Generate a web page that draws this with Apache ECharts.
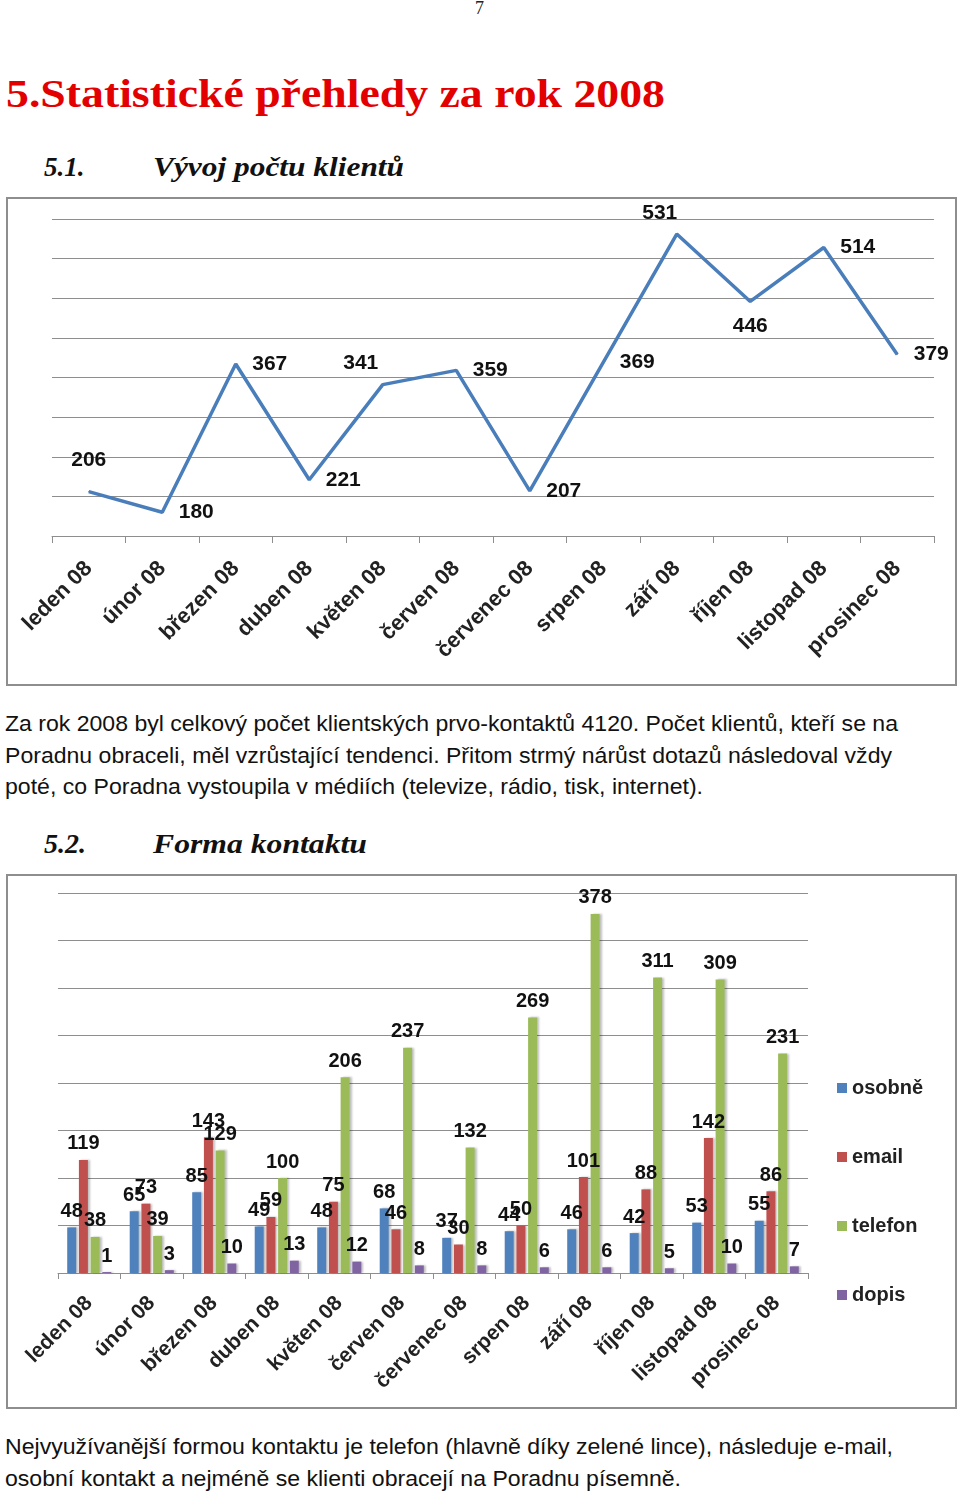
<!DOCTYPE html>
<html><head><meta charset="utf-8">
<script src="https://cdn.jsdelivr.net/npm/echarts/dist/echarts.min.js"></script>
<style>
html,body{margin:0;padding:0;background:#fff;width:960px;height:1492px;overflow:hidden;}
body{position:relative;}
.t{position:absolute;white-space:nowrap;transform-origin:0 50%;}
.p{font-family:"Liberation Sans",Arial,sans-serif;font-size:22px;color:#111;line-height:30px;}
.h2{font-family:"Liberation Serif",serif;font-weight:bold;font-style:italic;font-size:28px;color:#111;line-height:34px;}
.box{position:absolute;border:2px solid #8e8e8e;box-sizing:border-box;}
.chart{position:absolute;left:0;width:960px;}
</style></head>
<body>
<div class="t" style="left:475px;top:-3px;font-family:'Liberation Serif',serif;font-size:18px;line-height:22px;color:#222;">7</div>
<div class="t" data-w="659" style="left:6px;top:71px;font-family:'Liberation Serif',serif;font-weight:bold;font-size:39px;line-height:46px;color:#e30000;">5.Statistické přehledy za rok 2008</div>
<div class="t h2" style="left:44px;top:150px;font-size:27px;">5.1.</div>
<div class="t h2" data-w="251" style="left:153px;top:150px;font-size:27px;">Vývoj počtu klientů</div>

<div class="box" style="left:6px;top:197px;width:951px;height:489px;"></div>
<div id="c1" class="chart" style="top:197px;height:490px;"></div>

<div class="t p" data-w="893" style="left:5px;top:709px;">Za rok 2008 byl celkový počet klientských prvo-kontaktů 4120. Počet klientů, kteří se na</div>
<div class="t p" data-w="887" style="left:5px;top:741px;">Poradnu obraceli, měl vzrůstající tendenci. Přitom strmý nárůst dotazů následoval vždy</div>
<div class="t p" data-w="698" style="left:5px;top:772px;">poté, co Poradna vystoupila v médiích (televize, rádio, tisk, internet).</div>

<div class="t h2" style="left:44px;top:827px;">5.2.</div>
<div class="t h2" data-w="214" style="left:153px;top:827px;">Forma kontaktu</div>

<div class="box" style="left:6px;top:874px;width:951px;height:535px;"></div>
<div id="c2" class="chart" style="top:874px;height:535px;"></div>

<div class="t p" data-w="888" style="left:5px;top:1432px;">Nejvyužívanější formou kontaktu je telefon (hlavně díky zelené lince), následuje e-mail,</div>
<div class="t p" data-w="676" style="left:5px;top:1464px;">osobní kontakt a nejméně se klienti obracejí na Poradnu písemně.</div>

<script>
// ---- data ----
const months = ['leden 08','únor 08','březen 08','duben 08','květen 08','červen 08','červenec 08','srpen 08','září 08','říjen 08','listopad 08','prosinec 08'];
const clients = [206,180,367,221,341,359,207,369,531,446,514,379];
const contactNames = ['osobně','email','telefon','dopis'];
const osobne  = [48,65,85,49,48,68,37,44,46,42,53,55];
const email   = [119,73,143,59,75,46,30,50,101,88,142,86];
const telefon = [38,39,129,100,206,237,132,269,378,311,309,231];
const dopis   = [1,3,10,13,12,8,8,6,6,5,10,7];

// ---- label placement for chart 1 (style only) ----
const labelPlace = [
  {position:'top',distance:20},{position:'right',distance:16},{position:'right',distance:16},
  {position:'right',distance:16},{position:'top',distance:10,offset:[-22,0]},{position:'right',distance:16},
  {position:'right',distance:16},{position:'right',distance:16},{position:'top',distance:10,offset:[-17,0]},
  {position:'bottom',distance:14},{position:'right',distance:16},{position:'right',distance:16}
];

// fit text widths
document.querySelectorAll('[data-w]').forEach(el=>{
  const w = el.getBoundingClientRect().width;
  const target = +el.dataset.w;
  if (w>0) el.style.transform = 'scaleX(' + (target/w) + ')';
});

const FONT = '"Liberation Sans", Arial, sans-serif';
const grey = '#8e8e8e';

const c1 = echarts.init(document.getElementById('c1'), null, {renderer:'canvas'});
c1.setOption({
  animation:false,
  grid:{left:52,right:26,top:22,bottom:151},
  xAxis:{type:'category',data:months,boundaryGap:true,
    axisLine:{lineStyle:{color:grey,width:1}},
    axisTick:{show:true,length:7,lineStyle:{color:grey}},
    axisLabel:{interval:0,rotate:45,margin:29,fontFamily:FONT,fontSize:22,fontWeight:'bold',color:'#222'}},
  yAxis:{type:'value',min:150,max:550,interval:50,
    axisLabel:{show:false},axisLine:{show:false},axisTick:{show:false},
    splitLine:{lineStyle:{color:grey,width:1}}},
  series:[{type:'line',
    data:clients.map((v,i)=>({value:v,label:labelPlace[i]})),
    symbol:'circle',symbolSize:1,showSymbol:true,
    lineStyle:{color:'#4a7ebb',width:3.5},
    itemStyle:{color:'#4a7ebb'},
    label:{show:true,fontFamily:FONT,fontSize:21,fontWeight:'bold',color:'#111'}
  }]
});

const colors = ['#4f81bd','#c0504d','#9bbb59','#8064a2'];
const seriesData = [osobne,email,telefon,dopis];
const c2 = echarts.init(document.getElementById('c2'), null, {renderer:'canvas'});
c2.setOption({
  animation:false,
  color:colors,
  grid:{left:58,right:152,top:19,bottom:136},
  legend:{orient:'vertical',left:832,top:199,itemWidth:10,itemHeight:10,itemGap:49,icon:'rect',
    data:contactNames,
    textStyle:{fontFamily:FONT,fontSize:20,fontWeight:'bold',color:'#222'}},
  xAxis:{type:'category',data:months,boundaryGap:true,
    axisLine:{lineStyle:{color:grey,width:1}},
    axisTick:{show:true,length:6,lineStyle:{color:grey}},
    axisLabel:{interval:0,rotate:45,margin:27,fontFamily:FONT,fontSize:21,fontWeight:'bold',color:'#222'}},
  yAxis:{type:'value',min:0,max:400,interval:50,
    axisLabel:{show:false},axisLine:{show:false},axisTick:{show:false},
    splitLine:{lineStyle:{color:grey,width:1}}},
  series:contactNames.map((n,k)=>({
    name:n,type:'bar',data:seriesData[k],barWidth:9,barGap:'30%',
    itemStyle:{color:colors[k],shadowColor:'rgba(0,0,0,0.25)',shadowBlur:2,shadowOffsetX:2},
    label:{show:true,position:'top',distance:6,fontFamily:FONT,fontSize:20,fontWeight:'bold',color:'#111'}
  }))
});
</script>
</body></html>
